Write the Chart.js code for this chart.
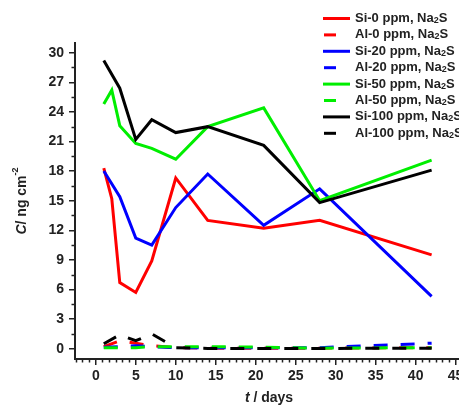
<!DOCTYPE html>
<html><head><meta charset="utf-8">
<script src="https://cdn.jsdelivr.net/npm/chart.js@4/dist/chart.umd.min.js"></script>
<style>html,body{margin:0;padding:0;background:#fff;overflow:hidden;width:459px;height:405px}
#wrap{position:absolute;left:0;top:0;width:490px;height:405px}</style></head>
<body><div id="wrap"><canvas id="c" width="490" height="405"></canvas></div>
<script>
// ---- data ----
const seriesNames = ["Si-0 ppm, Na2S","Al-0 ppm, Na2S","Si-20 ppm, Na2S","Al-20 ppm, Na2S","Si-50 ppm, Na2S","Al-50 ppm, Na2S","Si-100 ppm, Na2S","Al-100 ppm, Na2S"];
const daysA = [1,2,3,5,7,10,14,21,28,42];
const daysB = [1,3,5,7,10,14,21,28,42];
const si0   = [18.3,15.2,6.7,5.7,8.9,17.3,13.0,12.2,13.0,9.5];
const al0   = [0.2,0.8,0.55,0.3,0.1,0.05,0.05,0.05,0.1];
const si20  = [18.0,15.4,11.2,10.5,14.3,17.7,12.5,16.2,5.3];
const al20  = [0.15,0.2,0.3,0.2,0.1,0.1,0.1,0.1,0.55];
const si50  = [24.8,26.2,22.6,20.8,20.3,19.2,22.5,24.4,15.0,19.1];
const al50  = [0.1,0.1,0.1,0.2,0.2,0.2,0.15,0.05,0.1];
const si100 = [29.2,26.4,21.2,23.2,21.9,22.5,20.6,14.8,18.1];
const al100 = [0.5,1.4,0.8,1.5,0.1,0.02,0.02,0.02,0.05];
const xTickLabels = [0,5,10,15,20,25,30,35,40,45];
const yTickLabels = [0,3,6,9,12,15,18,21,24,27,30];

const colors = ["#ff0000","#ff0000","#0000ff","#0000ff","#00ee00","#00ee00","#000000","#000000"];
const dashed = [false,true,false,true,false,true,false,true];
const seriesDays = [daysA,daysB,daysB,daysB,daysA,daysB,daysB,daysB];
const seriesVals = [si0,al0,si20,al20,si50,al50,si100,al100];
const DASH = [14,13];

const datasets = seriesVals.map((vals,i)=>({
  label: seriesNames[i],
  data: vals.map((v,j)=>({x: seriesDays[i][j], y: v})),
  borderColor: colors[i],
  backgroundColor: colors[i],
  borderWidth: 3,
  borderDash: dashed[i] ? DASH : [],
  pointRadius: 0,
  tension: 0,
  fill: false,
  order: 8 - i
}));

const AX = '#222';
const FONT = "'Liberation Sans', Arial, sans-serif";

const extras = {
  id: 'extras',
  afterDraw(chart){
    const ctx = chart.ctx;
    const xs = chart.scales.x, ys = chart.scales.y;
    const a = chart.chartArea;
    ctx.save();
    ctx.strokeStyle = AX; ctx.lineWidth = 1.5;
    // x minor ticks
    for (let k = Math.ceil(xs.min*6/5); k <= Math.floor(xs.max*6/5); k++){
      if (k % 6 === 0) continue;
      const px = Math.round(xs.getPixelForValue(k*5/6)) + 0.5;
      ctx.beginPath(); ctx.moveTo(px, a.bottom); ctx.lineTo(px, a.bottom + 3.5); ctx.stroke();
    }
    // y minor ticks
    for (let v = 1.5; v < ys.max; v += 3){
      const py = Math.round(ys.getPixelForValue(v)) + 0.5;
      ctx.beginPath(); ctx.moveTo(a.left, py); ctx.lineTo(a.left - 3.5, py); ctx.stroke();
    }
    // y title
    ctx.fillStyle = AX;
    ctx.textBaseline = 'middle';
    ctx.translate(22, (a.top + a.bottom)/2);
    ctx.rotate(-Math.PI/2);
    const p1 = "C", p2 = "/ ng cm", p3 = "-2";
    ctx.font = "italic bold 14px " + FONT; const w1 = ctx.measureText(p1).width;
    ctx.font = "bold 14px " + FONT; const w2 = ctx.measureText(p2).width;
    ctx.font = "bold 9px " + FONT; const w3 = ctx.measureText(p3).width;
    let sx = -(w1 + w2 + w3)/2;
    ctx.font = "italic bold 14px " + FONT; ctx.fillText(p1, sx, 0); sx += w1;
    ctx.font = "bold 14px " + FONT; ctx.fillText(p2, sx, 0); sx += w2;
    ctx.font = "bold 9px " + FONT; ctx.fillText(p3, sx, -6);
    ctx.restore();

    // x title
    ctx.save();
    ctx.fillStyle = AX; ctx.textBaseline = 'middle';
    const q1 = "t", q2 = " / days";
    ctx.font = "italic bold 14px " + FONT; const v1 = ctx.measureText(q1).width;
    ctx.font = "bold 14px " + FONT; const v2 = ctx.measureText(q2).width;
    let tx = 269 - (v1+v2)/2;
    ctx.font = "italic bold 14px " + FONT; ctx.fillText(q1, tx, 398); tx += v1;
    ctx.font = "bold 14px " + FONT; ctx.fillText(q2, tx, 398);
    ctx.restore();

    // legend
    ctx.save();
    ctx.textBaseline = 'middle';
    chart.data.datasets.forEach((ds,i)=>{
      const y = 18.5 + i*16.4;
      ctx.strokeStyle = ds.borderColor; ctx.lineWidth = 3;
      ctx.beginPath();
      if (dashed[i]) { ctx.moveTo(324, y); ctx.lineTo(336, y); }
      else { ctx.moveTo(323, y); ctx.lineTo(350, y); }
      ctx.stroke();
      ctx.fillStyle = AX;
      const name = ds.label;
      const idx = name.lastIndexOf("2");
      const pre = name.slice(0, idx), post = name.slice(idx+1);
      let lx = 355;
      ctx.font = "bold 13px " + FONT; ctx.fillText(pre, lx, y); lx += ctx.measureText(pre).width;
      ctx.font = "bold 9px " + FONT; ctx.fillText("2", lx, y + 2); lx += ctx.measureText("2").width;
      ctx.font = "bold 13px " + FONT; ctx.fillText(post, lx, y);
    });
    ctx.restore();
  }
};

new Chart(document.getElementById('c'), {
  type: 'line',
  data: { datasets },
  options: {
    responsive: false,
    animation: false,
    devicePixelRatio: 1,
    layout: { padding: { top: 43, right: 20, left: 0, bottom: 0 } },
    plugins: { legend: { display: false }, tooltip: { enabled: false } },
    scales: {
      x: {
        type: 'linear', min: -2.6, max: 46.8,
        afterFit(s){ s.height = 46; },
        border: { display: true, color: AX, width: 2 },
        grid: { display: true, drawOnChartArea: false, drawTicks: true, tickLength: 6, color: AX, lineWidth: 1.5 },
        ticks: {
          stepSize: 5, includeBounds: false, autoSkip: false, maxRotation: 0,
          padding: 3, color: AX, font: { family: FONT, size: 14, weight: 'bold' },
          callback: (v)=> xTickLabels.includes(v) ? String(v) : ''
        }
      },
      y: {
        type: 'linear', min: -1.05, max: 30.98,
        afterFit(s){ s.width = 75; },
        border: { display: true, color: AX, width: 2 },
        grid: { display: true, drawOnChartArea: false, drawTicks: true, tickLength: 6, color: AX, lineWidth: 1.5 },
        ticks: {
          stepSize: 3, includeBounds: false, autoSkip: false,
          padding: 5, color: AX, font: { family: FONT, size: 14, weight: 'bold' },
          callback: (v)=> yTickLabels.includes(v) ? String(v) : ''
        }
      }
    }
  },
  plugins: [extras]
});
</script>
</body></html>
